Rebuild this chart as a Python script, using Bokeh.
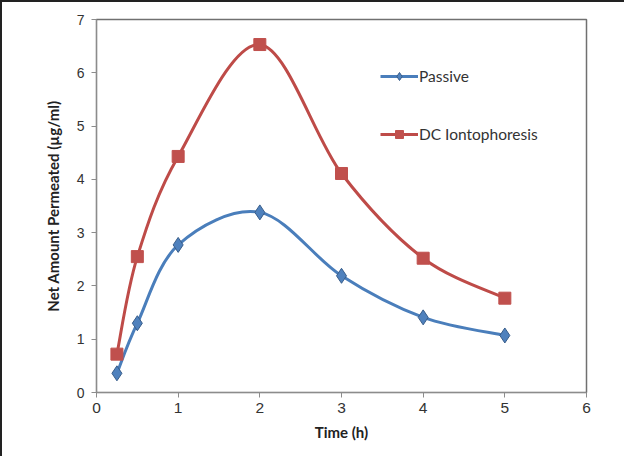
import numpy as np
from bokeh.plotting import figure
from bokeh.models import Range1d, FixedTicker, Legend, LegendItem, ColumnDataSource
from bokeh.embed import file_html
from bokeh.resources import INLINE

time_h = [0.25, 0.5, 1, 2, 3, 4, 5]
passive = [0.36, 1.30, 2.77, 3.38, 2.19, 1.41, 1.07]
dc_ionto = [0.72, 2.55, 4.43, 6.53, 4.11, 2.52, 1.77]
x_ticks = [0, 1, 2, 3, 4, 5, 6]
y_ticks = [0, 1, 2, 3, 4, 5, 6, 7]

BLUE_LINE = "#4A7EBB"
BLUE_FILL = "#4F81BD"
BLUE_EDGE = "#385D8A"
RED_LINE = "#BE4B48"
RED_FILL = "#C0504D"


def bezier_segments(xs, ys):
    x = np.asarray(xs, float)
    y = np.asarray(ys, float)
    n = len(x)
    xp = np.concatenate([[x[0]], x, [x[-1]]])
    yp = np.concatenate([[y[0]], y, [y[-1]]])
    d = dict(x0=[], y0=[], x1=[], y1=[], cx0=[], cy0=[], cx1=[], cy1=[])
    for i in range(n - 1):
        p0x, p0y = xp[i], yp[i]
        p1x, p1y = xp[i + 1], yp[i + 1]
        p2x, p2y = xp[i + 2], yp[i + 2]
        p3x, p3y = xp[i + 3], yp[i + 3]
        d["x0"].append(p1x); d["y0"].append(p1y)
        d["x1"].append(p2x); d["y1"].append(p2y)
        d["cx0"].append(p1x + (p2x - p0x) / 6); d["cy0"].append(p1y + (p2y - p0y) / 6)
        d["cx1"].append(p2x - (p3x - p1x) / 6); d["cy1"].append(p2y - (p3y - p1y) / 6)
    return ColumnDataSource(d)


p = figure(width=624, height=456, output_backend="svg", toolbar_location=None,
           x_range=Range1d(0, 6), y_range=Range1d(0, 7),
           min_border_left=94, min_border_right=40, min_border_top=17, min_border_bottom=66)
p.styles = {"border-left": "2px solid #222222", "border-top": "2px solid #222222"}

p.xgrid.visible = False
p.ygrid.visible = False
p.outline_line_color = "#707070"
p.outline_line_width = 1.5
p.background_fill_color = "white"
p.border_fill_color = "white"

for ax in (p.xaxis[0], p.yaxis[0]):
    ax.axis_line_color = "#8c8c8c"
    ax.major_tick_line_color = "#8c8c8c"
    ax.minor_tick_line_color = None
    ax.major_tick_in = 0
    ax.major_tick_out = 5
    ax.major_label_text_font = "Liberation Sans"
    ax.major_label_text_color = "#333333"
    ax.axis_label_text_font = "Lato"
    ax.axis_label_text_font_style = "bold"
    ax.axis_label_text_font_size = "15px"
    ax.axis_label_text_color = "#222222"

p.xaxis.major_label_text_font_size = "15.5px"
p.yaxis.major_label_text_font_size = "14px"
p.xaxis.ticker = FixedTicker(ticks=x_ticks)
p.yaxis.ticker = FixedTicker(ticks=y_ticks)
p.xaxis.major_label_standoff = 5
p.yaxis.major_label_standoff = 7
p.xaxis.axis_label = "Time (h)"
p.yaxis.axis_label = "Net Amount Permeated (\u00b5g/ml)"
p.xaxis.axis_label_standoff = 7
p.yaxis.axis_label_standoff = 12

bp = bezier_segments(time_h, passive)
bd = bezier_segments(time_h, dc_ionto)

lp = p.bezier(x0="x0", y0="y0", x1="x1", y1="y1", cx0="cx0", cy0="cy0", cx1="cx1", cy1="cy1",
              source=bp, line_color=BLUE_LINE, line_width=3)
ld = p.bezier(x0="x0", y0="y0", x1="x1", y1="y1", cx0="cx0", cy0="cy0", cx1="cx1", cy1="cy1",
              source=bd, line_color=RED_LINE, line_width=3)
mp = p.scatter(time_h, passive, marker="diamond", size=15, fill_color=BLUE_FILL,
               line_color=BLUE_EDGE, line_width=1)
md = p.scatter(time_h, dc_ionto, marker="square", size=12, fill_color=RED_FILL,
               line_color=RED_FILL, line_width=1)

legend = Legend(items=[LegendItem(label="Passive", renderers=[lp, mp]),
                       LegendItem(label="DC Iontophoresis", renderers=[ld, md])],
                location=(284, 248))
legend.border_line_color = None
legend.background_fill_alpha = 0
legend.padding = 0
legend.margin = 0
legend.spacing = 38
legend.glyph_width = 38
legend.glyph_height = 20
legend.label_height = 20
legend.label_standoff = 1
legend.label_text_font = "Lato"
legend.label_text_font_size = "15.5px"
legend.label_text_color = "#333333"
p.add_layout(legend)

open("out.html", "w").write(file_html(p, INLINE))
